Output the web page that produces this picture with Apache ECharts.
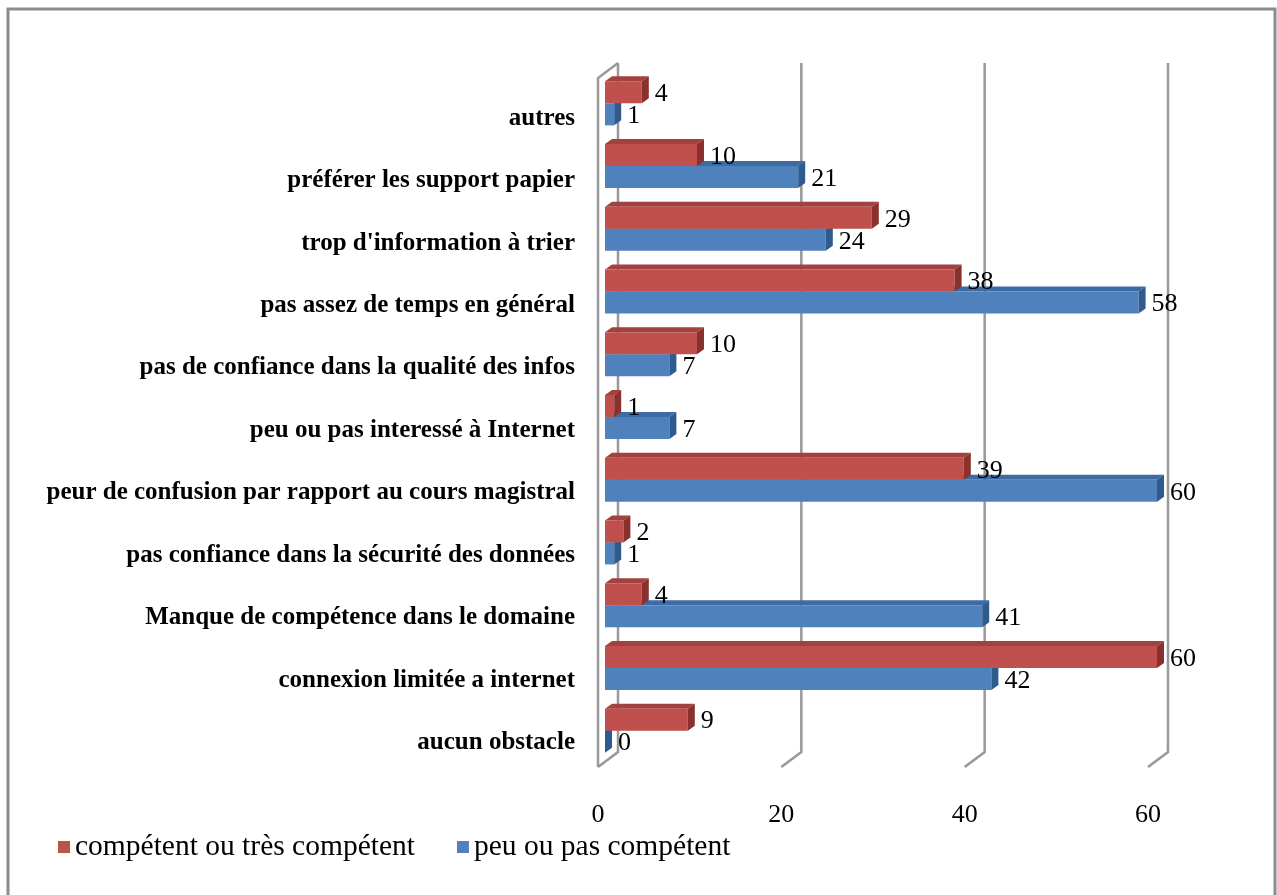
<!DOCTYPE html>
<html><head><meta charset="utf-8">
<script src="https://cdn.jsdelivr.net/npm/echarts@6/dist/echarts.min.js"></script>
<style>html,body{margin:0;padding:0;background:#fff}#c{width:1277px;height:895px}</style>
</head><body><div id="c"></div>
<script>
// categories bottom -> top
const categories = [
  'aucun obstacle',
  'connexion limitée a internet',
  'Manque de compétence dans le domaine',
  'pas confiance dans la sécurité des données',
  'peur de confusion par rapport au cours magistral',
  'peu ou pas interessé à Internet',
  'pas de confiance dans la qualité des infos',
  'pas assez de temps en général',
  "trop d'information à trier",
  'préférer les support papier',
  'autres'
];
const competent = [9, 60, 4, 2, 39, 1, 10, 38, 29, 10, 4];
const peuCompetent = [0, 42, 41, 1, 60, 7, 7, 58, 24, 21, 1];
const seriesNames = ['compétent ou très compétent', 'peu ou pas compétent'];
const xTicks = [0, 20, 40, 60];

const RED = {front:'#C0504D', top:'#A3413E', side:'#8A302D'};
const BLUE = {front:'#4F81BD', top:'#3D6BA3', side:'#2F5A8D'};
const SERIF = '"Liberation Serif", "DejaVu Serif", serif';

function barRenderer(cols, isRed) {
  return function (params, api) {
    const v = api.value(0), c = api.value(1);
    const p0 = api.coord([0, c]);
    const p1 = api.coord([v, c]);
    const h = 22, dx = 7, dy = -5;
    const x0 = p0[0], x1 = p1[0];
    const y0 = isRed ? p0[1] - h : p0[1];
    return {
      type: 'group',
      children: [
        {type:'polygon', shape:{points:[[x0,y0],[x1,y0],[x1+dx,y0+dy],[x0+dx,y0+dy]]}, style:{fill:cols.top}},
        {type:'rect', shape:{x:x0, y:y0, width:Math.max(x1-x0,0), height:h}, style:{fill:cols.front}},
        {type:'polygon', shape:{points:[[x1,y0],[x1+dx,y0+dy],[x1+dx,y0+dy+h],[x1,y0+h]]}, style:{fill:cols.side}},
        {type:'text', x:x1+dx+6, y:y0+h/2+2, style:{text:String(v), fill:'#000', font:'26px ' + SERIF, verticalAlign:'middle', align:'left'}}
      ]
    };
  };
}

function gridRenderer(params, api) {
  const v = api.value(0);
  const p = api.coord([v, 0]);
  const cs = params.coordSys;
  const xf = p[0];
  const dx = 20, dy = -15;
  const yBotFront = cs.y + cs.height - 7;
  const yTopBack = cs.y - 24;
  const stroke = {stroke:'#999999', lineWidth:2.5, fill:null};
  const children = [
    {type:'polyline', shape:{points:[[xf, yBotFront],[xf+dx, yBotFront+dy],[xf+dx, yTopBack]]}, style:stroke}
  ];
  if (v === 0) {
    children.push({type:'polyline', shape:{points:[[xf, yBotFront],[xf, yTopBack-dy],[xf+dx, yTopBack]]}, style:stroke});
  }
  return {type:'group', children};
}

const chart = echarts.init(document.getElementById('c'));
chart.setOption({
  backgroundColor:'#fff',
  animation:false,
  graphic:[{type:'rect', shape:{x:8, y:9, width:1267, height:900}, style:{fill:null, stroke:'#8c8c8c', lineWidth:3}, silent:true}],
  legend:{
    left:53, top:827, itemWidth:12, itemHeight:12, itemGap:42,
    icon:'rect',
    textStyle:{fontFamily:SERIF, fontSize:29.5, color:'#000'},
    data:seriesNames
  },
  grid:[
    {left:605, right:120, top:72, bottom:133},
    {left:598, right:129, top:87, bottom:121}
  ],
  xAxis:[
    {gridIndex:0, type:'value', min:0, max:60, show:false},
    {gridIndex:1, type:'value', min:0, max:60, interval:20,
     axisLine:{show:false}, axisTick:{show:false}, splitLine:{show:false},
     axisLabel:{margin:28, color:'#000', fontFamily:SERIF, fontSize:26}}
  ],
  yAxis:[
    {gridIndex:0, type:'category', data:categories, show:false},
    {gridIndex:1, type:'category', data:categories,
     axisLine:{show:false}, axisTick:{show:false},
     axisLabel:{margin:23, color:'#000', fontFamily:SERIF, fontSize:25, fontWeight:'bold'}}
  ],
  series:[
    {type:'custom', name:'grid', xAxisIndex:1, yAxisIndex:1, z:1, silent:true,
     renderItem:gridRenderer, data:xTicks.map(t => [t, 0])},
    {type:'custom', name:seriesNames[1], xAxisIndex:0, yAxisIndex:0, z:2,
     itemStyle:{color:BLUE.front},
     renderItem:barRenderer(BLUE, false), encode:{x:0, y:1},
     data:peuCompetent.map((v,i) => [v, i])},
    {type:'custom', name:seriesNames[0], xAxisIndex:0, yAxisIndex:0, z:3,
     itemStyle:{color:RED.front},
     renderItem:barRenderer(RED, true), encode:{x:0, y:1},
     data:competent.map((v,i) => [v, i])}
  ]
});
</script></body></html>
